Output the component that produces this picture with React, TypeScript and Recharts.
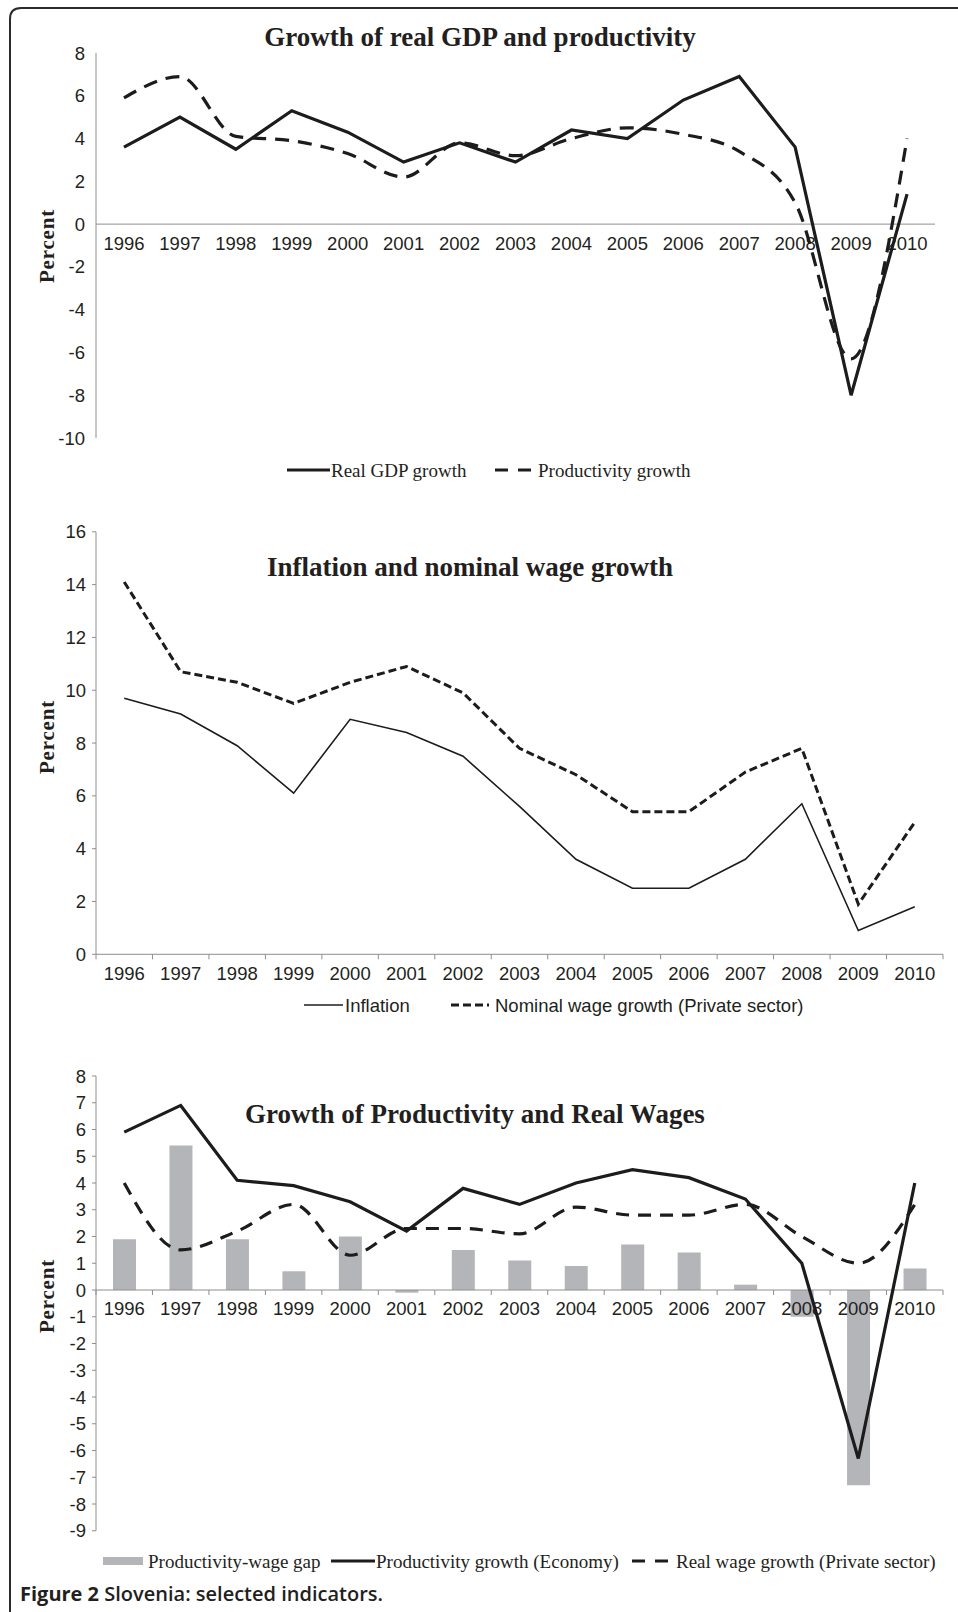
import React from 'react';
import { ComposedChart, Line, Bar, XAxis, YAxis, ReferenceLine } from 'recharts';

const years = ['1996', '1997', '1998', '1999', '2000', '2001', '2002', '2003', '2004', '2005', '2006', '2007', '2008', '2009', '2010'];

const realGdpGrowth = [3.6, 5.0, 3.5, 5.3, 4.3, 2.9, 3.8, 2.9, 4.4, 4.0, 5.8, 6.9, 3.6, -8.0, 1.4];
const productivityGrowth = [5.9, 6.9, 4.1, 3.9, 3.3, 2.2, 3.8, 3.2, 4.0, 4.5, 4.2, 3.4, 1.0, -6.3, 4.0];

const inflation = [9.7, 9.1, 7.9, 6.1, 8.9, 8.4, 7.5, 5.6, 3.6, 2.5, 2.5, 3.6, 5.7, 0.9, 1.8];
const nominalWageGrowth = [14.1, 10.7, 10.3, 9.5, 10.3, 10.9, 9.9, 7.8, 6.8, 5.4, 5.4, 6.9, 7.8, 1.9, 5.0];

const productivityWageGap = [1.9, 5.4, 1.9, 0.7, 2.0, -0.1, 1.5, 1.1, 0.9, 1.7, 1.4, 0.2, -1.0, -7.3, 0.8];
const realWageGrowth = [4.0, 1.5, 2.2, 3.2, 1.3, 2.3, 2.3, 2.1, 3.1, 2.8, 2.8, 3.2, 2.0, 1.0, 3.2];

const ticks1 = [-10, -8, -6, -4, -2, 0, 2, 4, 6, 8];
const ticks2 = [0, 2, 4, 6, 8, 10, 12, 14, 16];
const ticks3 = [-9, -8, -7, -6, -5, -4, -3, -2, -1, 0, 1, 2, 3, 4, 5, 6, 7, 8];

const title1 = 'Growth of real GDP and productivity';
const title2 = 'Inflation and nominal wage growth';
const title3 = 'Growth of Productivity and Real Wages';
const yLabel = 'Percent';
const caption1 = 'Figure 2';
const caption2 = ' Slovenia: selected indicators.';

const data1 = years.map((year, i) => ({ year, gdp: realGdpGrowth[i], prod: productivityGrowth[i] }));
const data2 = years.map((year, i) => ({ year, infl: inflation[i], wage: nominalWageGrowth[i] }));
const data3 = years.map((year, i) => ({ year, gap: productivityWageGap[i], prod: productivityGrowth[i], real: realWageGrowth[i] }));

const SANS = 'Liberation Sans, Arial, sans-serif';
const SERIF = 'Liberation Serif, Times New Roman, serif';
const INK = '#1c1c1c';
const AXIS = '#8e8e8e';
const TXT = '#231f20';
const BARFILL = '#b4b5b8';

const categoryLabels = (offsetY: number, tickMarks: boolean) => (props: any) => {
  const vb = props && props.viewBox;
  if (!vb) return null;
  const n = years.length;
  const band = vb.width / n;
  return (
    <g>
      {tickMarks &&
        Array.from({ length: n + 1 }).map((_, i) => (
          <line key={'t' + i} x1={vb.x + i * band} x2={vb.x + i * band} y1={vb.y} y2={vb.y + 5} stroke={AXIS} strokeWidth={1} />
        ))}
      {years.map((y, i) => (
        <text key={y} x={vb.x + (i + 0.5) * band} y={vb.y + offsetY} textAnchor="middle" dominantBaseline="central" fontFamily={SANS} fontSize={18.5} fill={TXT}>
          {y}
        </text>
      ))}
    </g>
  );
};

const yTick = { fontSize: 18.5, fill: TXT, fontFamily: SANS };

export default function App() {
  return (
    <div style={{ position: 'absolute', left: 0, top: 0, width: 958, height: 1612, background: '#fff', overflow: 'hidden' }}>
      {/* Chart 1 */}
      <div style={{ position: 'absolute', left: 0, top: 40 }}>
        <ComposedChart width={958} height={420} data={data1} margin={{ top: 13, right: 23, bottom: 22, left: 36 }}>
          <XAxis dataKey="year" hide scale="band" />
          <YAxis width={60} type="number" domain={[-10, 8]} ticks={ticks1} interval={0} allowDataOverflow axisLine={{ stroke: AXIS }} tickLine={false} tickSize={0} tickMargin={11} tick={yTick} />
          <ReferenceLine y={0} stroke={AXIS} strokeWidth={1} ifOverflow="visible" label={categoryLabels(19, false)} />
          <Line dataKey="gdp" type="linear" stroke={INK} strokeWidth={3.2} dot={false} activeDot={false} isAnimationActive={false} />
          <Line dataKey="prod" type="monotone" stroke={INK} strokeWidth={3.2} strokeDasharray="14 9" dot={false} activeDot={false} isAnimationActive={false} />
        </ComposedChart>
      </div>

      {/* Chart 2 */}
      <div style={{ position: 'absolute', left: 0, top: 500 }}>
        <ComposedChart width={958} height={500} data={data2} margin={{ top: 31.8, right: 15, bottom: 45.7, left: 36 }}>
          <XAxis dataKey="year" hide scale="band" />
          <YAxis width={60} type="number" domain={[0, 16]} ticks={ticks2} interval={0} allowDataOverflow axisLine={{ stroke: AXIS }} tickLine={{ stroke: AXIS }} tickSize={4} tickMargin={6} tick={yTick} />
          <ReferenceLine y={0} stroke={AXIS} strokeWidth={1} ifOverflow="visible" label={categoryLabels(19, true)} />
          <Line dataKey="infl" type="linear" stroke={INK} strokeWidth={1.6} dot={false} activeDot={false} isAnimationActive={false} />
          <Line dataKey="wage" type="linear" stroke={INK} strokeWidth={3} strokeDasharray="8 4" dot={false} activeDot={false} isAnimationActive={false} />
        </ComposedChart>
      </div>

      {/* Chart 3 */}
      <div style={{ position: 'absolute', left: 0, top: 1050 }}>
        <ComposedChart width={958} height={500} data={data3} margin={{ top: 26, right: 15, bottom: 19.25, left: 36 }}>
          <XAxis dataKey="year" hide scale="band" />
          <YAxis width={60} type="number" domain={[-9, 8]} ticks={ticks3} interval={0} allowDataOverflow axisLine={{ stroke: AXIS }} tickLine={{ stroke: AXIS }} tickSize={4} tickMargin={6} tick={yTick} />
          <Bar dataKey="gap" fill={BARFILL} barSize={23} isAnimationActive={false} />
          <ReferenceLine y={0} stroke={AXIS} strokeWidth={1} ifOverflow="visible" label={categoryLabels(18, true)} />
          <Line dataKey="prod" type="linear" stroke={INK} strokeWidth={3.2} dot={false} activeDot={false} isAnimationActive={false} />
          <Line dataKey="real" type="monotone" stroke={INK} strokeWidth={3.2} strokeDasharray="13 9" dot={false} activeDot={false} isAnimationActive={false} />
        </ComposedChart>
      </div>

      {/* Decorations: border, titles, axis titles, legends, caption */}
      <svg width={958} height={1612} style={{ position: 'absolute', left: 0, top: 0, pointerEvents: 'none' }}>
        <path d="M 10 1612 L 10 19 Q 10 8 21 8 L 958 8" fill="none" stroke="#2a2a2a" strokeWidth={2} />

        <text x={480} y={46} textAnchor="middle" fontFamily={SERIF} fontWeight="bold" fontSize={27} fill={TXT}>{title1}</text>
        <text x={470} y={576} textAnchor="middle" fontFamily={SERIF} fontWeight="bold" fontSize={27} fill={TXT}>{title2}</text>
        <text x={475} y={1123} textAnchor="middle" fontFamily={SERIF} fontWeight="bold" fontSize={27} fill={TXT}>{title3}</text>

        {[246, 737, 1296].map((cy) => (
          <text key={cy} x={47} y={cy} transform={`rotate(-90 47 ${cy})`} textAnchor="middle" dominantBaseline="central" fontFamily={SERIF} fontWeight="bold" fontSize={21} letterSpacing={0.8} fill={TXT}>
            {yLabel}
          </text>
        ))}

        {/* Legend 1 */}
        <line x1={287} x2={330} y1={470} y2={470} stroke={INK} strokeWidth={3.2} />
        <text x={331} y={470} dominantBaseline="central" fontFamily={SERIF} fontSize={19} fill={TXT}>Real GDP growth</text>
        <line x1={495} x2={533} y1={470} y2={470} stroke={INK} strokeWidth={3.2} strokeDasharray="13 10" />
        <text x={538} y={470} dominantBaseline="central" fontFamily={SERIF} fontSize={19} fill={TXT}>Productivity growth</text>

        {/* Legend 2 */}
        <line x1={304} x2={343} y1={1005} y2={1005} stroke={INK} strokeWidth={1.6} />
        <text x={345} y={1005} dominantBaseline="central" fontFamily={SANS} fontSize={18.5} fill={TXT}>Inflation</text>
        <line x1={451} x2={489} y1={1005} y2={1005} stroke={INK} strokeWidth={3} strokeDasharray="8 4" />
        <text x={495} y={1005} dominantBaseline="central" fontFamily={SANS} fontSize={18.5} fill={TXT}>Nominal wage growth (Private sector)</text>

        {/* Legend 3 */}
        <rect x={103} y={1557} width={40} height={8} fill={BARFILL} />
        <text x={148} y={1561} dominantBaseline="central" fontFamily={SERIF} fontSize={19} fill={TXT}>Productivity-wage gap</text>
        <line x1={331} x2={375} y1={1561} y2={1561} stroke={INK} strokeWidth={3.2} />
        <text x={376} y={1561} dominantBaseline="central" fontFamily={SERIF} fontSize={19} fill={TXT}>Productivity growth (Economy)</text>
        <line x1={632} x2={670} y1={1561} y2={1561} stroke={INK} strokeWidth={3.2} strokeDasharray="13 10" />
        <text x={676} y={1561} dominantBaseline="central" fontFamily={SERIF} fontSize={19} fill={TXT}>Real wage growth (Private sector)</text>

        {/* Caption */}
        <text x={20} y={1601} fontFamily="Open Sans, Noto Sans, sans-serif" fontSize={20} fontWeight={700} fill={TXT}>
          {caption1}
          <tspan fontWeight={600}>{caption2}</tspan>
        </text>
      </svg>
    </div>
  );
}
